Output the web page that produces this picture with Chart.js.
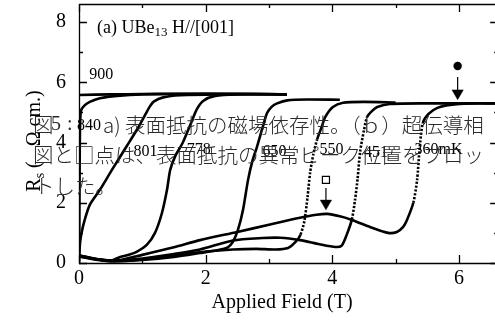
<!DOCTYPE html>
<html><head><meta charset="utf-8">
<script src="https://cdn.jsdelivr.net/npm/chart.js@4/dist/chart.umd.min.js"></script>
<style>html,body{margin:0;padding:0;background:#fff;}#wrap{width:495px;height:320px;}</style>
</head><body><div id="wrap"><canvas id="c" width="495" height="320"></canvas></div>
<script>
// ---- data ----
const fieldTicks = [0, 1, 2, 3, 4, 5, 6];
const resTicks = [0, 1, 2, 3, 4, 5, 6, 7, 8];
const tempLabels = ['900', '840', '801', '778', '650', '550', '451', '360mK'];

const H900 = [0, 0.5, 1, 1.5, 2, 2.5, 3, 3.28];
const R900 = [5.58, 5.6, 5.61, 5.62, 5.62, 5.62, 5.61, 5.6];

const H840 = [0, 0.004, 0.008, 0.012, 0.018, 0.03, 0.08, 0.17, 0.33, 0.6, 1.0, 2.0, 3.28];
const R840 = [0, 0.9, 2.3, 3.8, 4.6, 5.05, 5.22, 5.35, 5.47, 5.55, 5.6, 5.62, 5.6];

const H801 = [0, 0.016, 0.04, 0.09, 0.17, 0.33, 0.52, 0.76, 0.95, 1.04, 1.12, 1.18, 1.33, 1.6, 2.2, 3.28];
const R801 = [0.05, 0.66, 1.0, 1.43, 1.93, 2.43, 3.09, 3.9, 4.55, 4.9, 5.2, 5.36, 5.5, 5.57, 5.6, 5.6];

const H778 = [0, 0.2, 0.4, 0.54, 0.65, 0.8, 0.91, 1.07, 1.2, 1.31, 1.39, 1.44, 1.52, 1.64, 1.76, 1.86, 1.96, 2.15, 2.5, 3.28];
const R778 = [0.24, 0.15, 0.1, 0.1, 0.2, 0.28, 0.37, 0.6, 1.0, 1.66, 2.43, 3.09, 3.55, 4.0, 4.6, 5.1, 5.38, 5.55, 5.6, 5.6];

const H650 = [0, 0.3, 0.55, 1.0, 1.5, 1.91, 2.2, 2.35, 2.43, 2.51, 2.59, 2.67, 2.74, 2.81, 2.9, 2.97, 3.05, 3.13, 3.29, 3.6, 4.12];
const R650 = [0.22, 0.1, 0.06, 0.1, 0.2, 0.33, 0.43, 0.52, 0.7, 1.1, 1.76, 2.76, 3.4, 3.85, 4.5, 4.98, 5.2, 5.3, 5.4, 5.43, 5.42];

const H550 = [0, 0.3, 0.55, 1.0, 1.5, 2.0, 2.43, 2.8, 3.1, 3.3, 3.42, 3.5, 3.56, 3.61, 3.65, 3.7, 3.76, 3.83, 3.89, 4.01, 4.17, 4.5, 5.0];
const R550 = [0.22, 0.12, 0.07, 0.12, 0.25, 0.38, 0.45, 0.47, 0.45, 0.5, 0.7, 0.95, 1.4, 2.2, 3.0, 3.6, 4.1, 4.5, 4.85, 5.18, 5.32, 5.35, 5.33];

const H451 = [0, 0.3, 0.55, 1.0, 1.5, 1.91, 2.43, 2.9, 3.18, 3.49, 3.8, 4.05, 4.15, 4.23, 4.31, 4.36, 4.4, 4.44, 4.5, 4.55, 4.63, 4.71, 4.91, 5.5, 6.57];
const R451 = [0.25, 0.12, 0.08, 0.15, 0.3, 0.45, 0.75, 0.83, 0.84, 0.76, 0.62, 0.53, 0.58, 0.95, 1.45, 2.1, 2.8, 3.7, 4.4, 4.85, 5.05, 5.18, 5.28, 5.3, 5.3];

const H360 = [0, 0.3, 0.55, 1.0, 1.5, 1.91, 2.5, 3.0, 3.49, 3.75, 3.92, 4.12, 4.31, 4.64, 4.88, 5.02, 5.12, 5.18, 5.28, 5.34, 5.38, 5.43, 5.52, 5.66, 5.86, 6.2, 6.57];
const R360 = [0.26, 0.12, 0.06, 0.27, 0.52, 0.76, 1.03, 1.27, 1.5, 1.6, 1.63, 1.55, 1.43, 1.16, 1.0, 1.03, 1.2, 1.43, 2.0, 2.76, 3.8, 4.65, 4.95, 5.15, 5.25, 5.3, 5.3];

// markers (filled circle / open square with arrows)
const dotH = [5.98], dotR = [6.54];
const arrow1H = [5.98, 5.98], arrow1R = [6.18, 5.64];
const sqH = [3.9], sqR = [2.76];
const arrow2H = [3.9, 3.9], arrow2R = [2.49, 1.98];

// label anchor positions (field, resistivity) for temperature labels
const labelH = [0.16, -0.03, 0.86, 1.7, 2.9, 3.8, 4.5, 5.3];
const labelR = [6.25, 4.55, 3.7, 3.76, 3.7, 3.76, 3.66, 3.76];

// ---- build ----
const pts = (hs, rs) => hs.map((h, i) => ({x: h, y: rs[i]}));
const curves = [
  [H900, R900, false], [H840, R840, false], [H801, R801, false], [H778, R778, false],
  [H650, R650, false], [H550, R550, true], [H451, R451, true], [H360, R360, true]
];
const datasets = curves.map((c, i) => ({
  label: tempLabels[i], data: pts(c[0], c[1]), dotted: c[2],
  borderColor: '#000', borderWidth: 2.6, pointRadius: 0, tension: 0.25, showLine: true, fill: false,
  segment: {
    borderDash: ctx => {
      const ds = ctx.chart.data.datasets[ctx.datasetIndex];
      if (!ds.dotted) return undefined;
      const dx = Math.abs(ctx.p1.x - ctx.p0.x), dy = Math.abs(ctx.p1.y - ctx.p0.y);
      return (dy > 3 * dx && dy > 10) ? [2.2, 1.6] : undefined;
    }
  }
}));
datasets.push({data: pts(dotH, dotR), showLine: false, pointStyle: 'circle', pointRadius: 4.2,
  pointBackgroundColor: '#000', pointBorderColor: '#000', pointBorderWidth: 0});
datasets.push({data: pts(arrow1H, arrow1R), showLine: true, borderColor: '#000', borderWidth: 1.2,
  pointStyle: 'triangle', pointRotation: 180, pointRadius: [0, 6.5], pointBackgroundColor: '#000',
  pointBorderColor: '#000', pointBorderWidth: 0.5});
datasets.push({data: pts(sqH, sqR), showLine: false, pointStyle: 'rect', pointRadius: 5,
  pointBackgroundColor: '#fff', pointBorderColor: '#000', pointBorderWidth: 1.2});
datasets.push({data: pts(arrow2H, arrow2R), showLine: true, borderColor: '#000', borderWidth: 1.2,
  pointStyle: 'triangle', pointRotation: 180, pointRadius: [0, 6.5], pointBackgroundColor: '#000',
  pointBorderColor: '#000', pointBorderWidth: 0.5});

const SERIF = '"Liberation Serif","Times New Roman",serif';
const CJK = '"Noto Sans CJK JP","Noto Sans CJK SC",sans-serif';

// caption overlay (pixel layout)
const overlay = [
  ['図', 33, 125], ['5', 51, 125, 'serif'], [':', 67, 125, 'serif'], ['a)', 103, 125],
  ['表面抵抗の磁場依存性。（ｂ）超伝導相', 125, 125],
  ['図と□点は、表面抵抗の異常ピーク位置をプロッ', 33, 155],
  ['トした。', 34, 186]
];

const deco = {
  id: 'deco',
  beforeDatasetsDraw(chart) {
    const {ctx, chartArea: a, scales: {x, y}} = chart;
    ctx.save();
    ctx.strokeStyle = '#000';
    ctx.lineWidth = 1.3;
    ctx.beginPath();
    ctx.moveTo(a.left + 0.5, a.top + 0.5); ctx.lineTo(a.left + 0.5, a.bottom + 0.5);
    ctx.lineTo(a.right + 5, a.bottom + 0.5);
    ctx.moveTo(a.left, a.top + 0.5); ctx.lineTo(a.right + 5, a.top + 0.5);
    ctx.stroke();
    const xr = x.getPixelForValue(6.62);
    ctx.beginPath();
    fieldTicks.forEach(v => {
      const px = Math.round(x.getPixelForValue(v)) + 0.5, len = v % 2 === 0 ? 8 : 4;
      ctx.moveTo(px, a.bottom); ctx.lineTo(px, a.bottom - len);
      ctx.moveTo(px, a.top); ctx.lineTo(px, a.top + len);
    });
    resTicks.forEach(v => {
      const py = Math.round(y.getPixelForValue(v)) + 0.5, len = v % 2 === 0 ? 8 : 4;
      ctx.moveTo(a.left, py); ctx.lineTo(a.left + len, py);
      ctx.moveTo(xr, py); ctx.lineTo(xr - len, py);
    });
    ctx.stroke();
    ctx.restore();
  },
  afterDatasetsDraw(chart) {
    const {ctx, chartArea: a, scales: {x, y}} = chart;
    ctx.save();
    ctx.fillStyle = '#000';
    // panel label
    ctx.textBaseline = 'alphabetic'; ctx.textAlign = 'left';
    let px = 97, py = 33;
    ctx.font = '18px ' + SERIF; ctx.fillText('(a) UBe', px, py); px += ctx.measureText('(a) UBe').width;
    ctx.font = '13px ' + SERIF; ctx.fillText('13', px, py + 3); px += ctx.measureText('13').width;
    ctx.font = '18px ' + SERIF; ctx.fillText(' H//[001]', px, py);
    // temperature labels
    ctx.font = '16px ' + SERIF; ctx.textBaseline = 'middle';
    tempLabels.forEach((t, i) => {
      ctx.fillText(t, x.getPixelForValue(labelH[i]), y.getPixelForValue(labelR[i]));
    });
    // x title
    ctx.font = '20px ' + SERIF; ctx.textAlign = 'center'; ctx.textBaseline = 'alphabetic';
    ctx.fillText('Applied Field (T)', 282, 308);
    // y title (rotated)
    ctx.save();
    ctx.translate(40, 141); ctx.rotate(-Math.PI / 2);
    ctx.textAlign = 'left';
    ctx.font = '20px ' + SERIF; const wR = ctx.measureText('R').width;
    ctx.font = '14px ' + SERIF; const wS = ctx.measureText('s').width;
    ctx.font = '20px ' + SERIF; const rest = ' (\u2002 Ω cm.)'; const wRest = ctx.measureText(rest).width;
    let tx = -(wR + wS + wRest) / 2;
    ctx.fillText('R', tx, 0); tx += wR;
    ctx.font = '14px ' + SERIF; ctx.fillText('s', tx, 4); tx += wS;
    ctx.font = '20px ' + SERIF; ctx.fillText(rest, tx, 0);
    ctx.restore();
    // caption overlay
    ctx.fillStyle = '#2a2a2a'; ctx.textAlign = 'left'; ctx.textBaseline = 'middle';
    overlay.forEach(o => {
      ctx.font = (o[3] === 'serif' ? '20px ' + SERIF : '300 20.5px ' + CJK);
      ctx.fillText(o[0], o[1], o[2]);
    });
    ctx.restore();
  }
};

new Chart(document.getElementById('c'), {
  type: 'scatter',
  data: {datasets},
  options: {
    responsive: false, devicePixelRatio: 1, animation: false,
    layout: {autoPadding: false, padding: {top: 4, right: 0, left: 0, bottom: 0}},
    plugins: {legend: {display: false}, tooltip: {enabled: false}},
    scales: {
      x: {
        type: 'linear', min: 0, max: 6.57,
        grid: {display: false, drawTicks: false}, border: {display: false},
        ticks: {stepSize: 1, includeBounds: false, autoSkip: false, maxRotation: 0, padding: 4,
          color: '#000', font: {family: SERIF, size: 20},
          callback: v => (v % 2 === 0 ? String(v) : '')},
        afterFit: s => { s.height = 57; s.paddingLeft = 0; s.paddingRight = 0; }
      },
      y: {
        type: 'linear', min: 0, max: 8.6,
        grid: {display: false, drawTicks: false}, border: {display: false},
        ticks: {stepSize: 1, includeBounds: false, autoSkip: false, padding: 13,
          color: '#000', font: {family: SERIF, size: 20},
          callback: v => (v % 2 === 0 ? String(v) : '')},
        afterFit: s => { s.width = 79; s.paddingTop = 0; s.paddingBottom = 0; }
      }
    }
  },
  plugins: [deco]
});
</script>
</body></html>
